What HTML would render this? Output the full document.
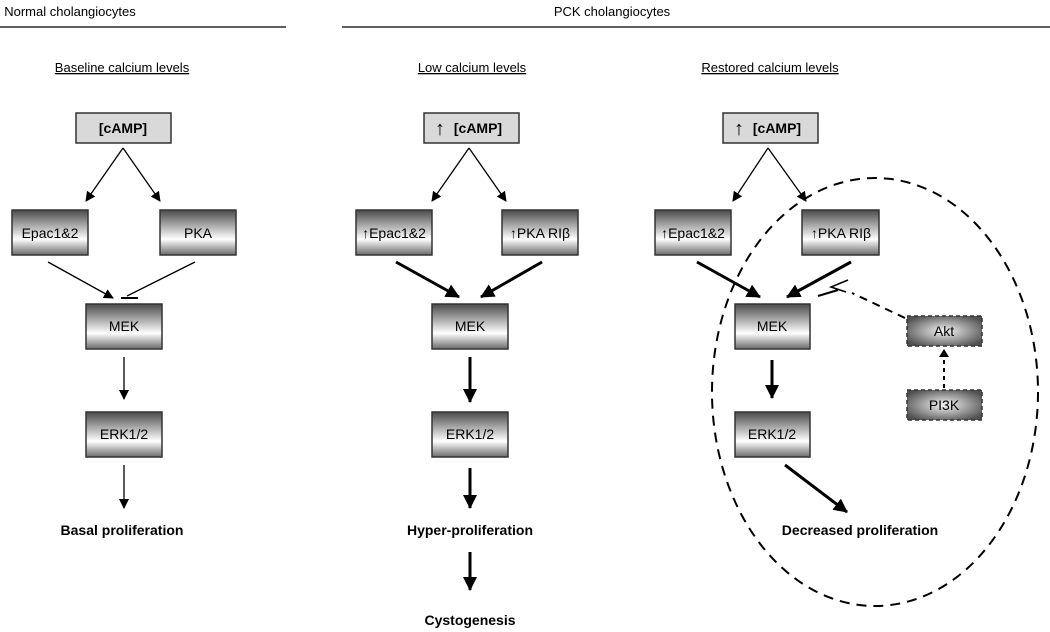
<!DOCTYPE html>
<html><head><style>body{margin:0;background:#fff}svg{display:block}text{font-family:"Liberation Sans",Arial,sans-serif}</style></head>
<body>
<svg width="1050" height="632" viewBox="0 0 1050 632" xmlns="http://www.w3.org/2000/svg">
<defs>
<linearGradient id="g" x1="0" y1="0" x2="0" y2="1">
<stop offset="0" stop-color="#4a4a4a"/><stop offset="0.65" stop-color="#ffffff"/><stop offset="1" stop-color="#6a6a6a"/></linearGradient>
<radialGradient id="r" cx="0.5" cy="0.5" r="0.6"><stop offset="0" stop-color="#f4f4f4"/><stop offset="1" stop-color="#505050"/></radialGradient>
<marker id="a" markerWidth="10" markerHeight="10" refX="9" refY="5" orient="auto" markerUnits="userSpaceOnUse"><path d="M0,0 L10,5 L0,10 z" fill="#000"/></marker>
<marker id="b" markerWidth="14" markerHeight="14" refX="13" refY="7" orient="auto" markerUnits="userSpaceOnUse"><path d="M0,0 L14,7 L0,14 z" fill="#000"/></marker>
</defs>
<g font-size="13" text-anchor="middle">
<text x="70" y="16">Normal cholangiocytes</text>
<text x="612" y="16">PCK cholangiocytes</text>
</g>
<line x1="0" y1="27" x2="286" y2="27" stroke="#000" stroke-width="1.2"/>
<line x1="342" y1="27" x2="1050" y2="27" stroke="#000" stroke-width="1.2"/>
<g font-size="13" text-anchor="middle" text-decoration="underline">
<text x="122" y="72">Baseline calcium levels</text>
<text x="472" y="72">Low calcium levels</text>
<text x="770" y="72">Restored calcium levels</text>
</g>
<g stroke="#333" stroke-width="1.5">
<rect x="76" y="113" width="95" height="30" fill="#d9d9d9"/>
<rect x="424" y="113" width="95" height="30" fill="#d9d9d9"/>
<rect x="723" y="113" width="95" height="30" fill="#d9d9d9"/>
<g fill="url(#g)">
<rect x="12" y="210" width="76" height="45"/><rect x="160" y="210" width="76" height="45"/>
<rect x="356" y="210" width="76" height="45"/><rect x="502" y="210" width="76" height="45"/>
<rect x="655" y="210" width="76" height="45"/><rect x="802" y="210" width="77" height="45"/>
<rect x="86" y="304" width="76" height="45"/><rect x="432" y="304" width="76" height="45"/><rect x="735" y="304" width="75" height="45"/>
<rect x="86" y="412" width="76" height="45"/><rect x="432" y="412" width="76" height="45"/><rect x="735" y="412" width="75" height="45"/>
</g>
<g fill="url(#r)" stroke-dasharray="4,3"><rect x="907" y="316" width="75" height="30"/><rect x="907" y="390" width="75" height="30"/></g>
</g>
<g font-size="14" font-weight="bold" text-anchor="middle">
<text x="123" y="133">[cAMP]</text>
<text x="478" y="133">[cAMP]</text><text x="440" y="135" font-size="20" font-weight="normal">↑</text>
<text x="777" y="133">[cAMP]</text><text x="739" y="135" font-size="20" font-weight="normal">↑</text>
<text x="122" y="535">Basal proliferation</text>
<text x="470" y="535">Hyper-proliferation</text>
<text x="470" y="625">Cystogenesis</text>
<text x="860" y="535">Decreased proliferation</text>
</g>
<g font-size="14" text-anchor="middle">
<text x="50" y="238">Epac1&amp;2</text><text x="198" y="238">PKA</text>
<text x="394" y="238">↑Epac1&amp;2</text><text x="540" y="238">↑PKA RIβ</text>
<text x="693" y="238">↑Epac1&amp;2</text><text x="841" y="238">↑PKA RIβ</text>
<text x="124" y="331">MEK</text><text x="470" y="331">MEK</text><text x="772" y="331">MEK</text>
<text x="124" y="439">ERK1/2</text><text x="470" y="439">ERK1/2</text><text x="772" y="439">ERK1/2</text>
<text x="944" y="336">Akt</text><text x="944" y="410">PI3K</text>
</g>
<g stroke="#000" stroke-width="1.3" fill="none" marker-end="url(#a)">
<path d="M123,148 L86,201"/><path d="M123,148 L160,201"/>
<path d="M469,148 L432,201"/><path d="M469,148 L506,201"/>
<path d="M768,148 L733,201"/><path d="M768,148 L806,201"/>
<path d="M48,262 L113,298"/>
<path d="M124,357 L124,399"/><path d="M124,465 L124,508"/>
</g>
<path d="M195,262 L127,296" stroke="#000" stroke-width="1.3"/>
<path d="M121,298 L138,298" stroke="#000" stroke-width="2"/>
<g stroke="#000" stroke-width="3" fill="none" marker-end="url(#b)">
<path d="M396,262 L459,297"/><path d="M542,262 L481,297"/>
<path d="M470,357 L470,402"/><path d="M470,468 L470,508"/><path d="M470,552 L470,590"/>
<path d="M697,262 L760,297"/><path d="M851,262 L787,297"/>
<path d="M772,360 L772,398"/><path d="M785,465 L847,512"/>
</g>
<g stroke="#000" stroke-width="2" fill="none">
<ellipse cx="875" cy="392" rx="163" ry="214" stroke-dasharray="10,7"/>
<path d="M905,318 L852,293" stroke-dasharray="8,6"/>
<path d="M838,290 L818,296" stroke-dasharray="none"/>
<path d="M848,280 L831,287 L846,292" stroke-width="1.5"/>
<path d="M944,388 L944,356" stroke-dasharray="4,4"/>
</g>
<path d="M939,357 L944,349 L949,357 z" fill="#000"/>
</svg>
</body></html>
